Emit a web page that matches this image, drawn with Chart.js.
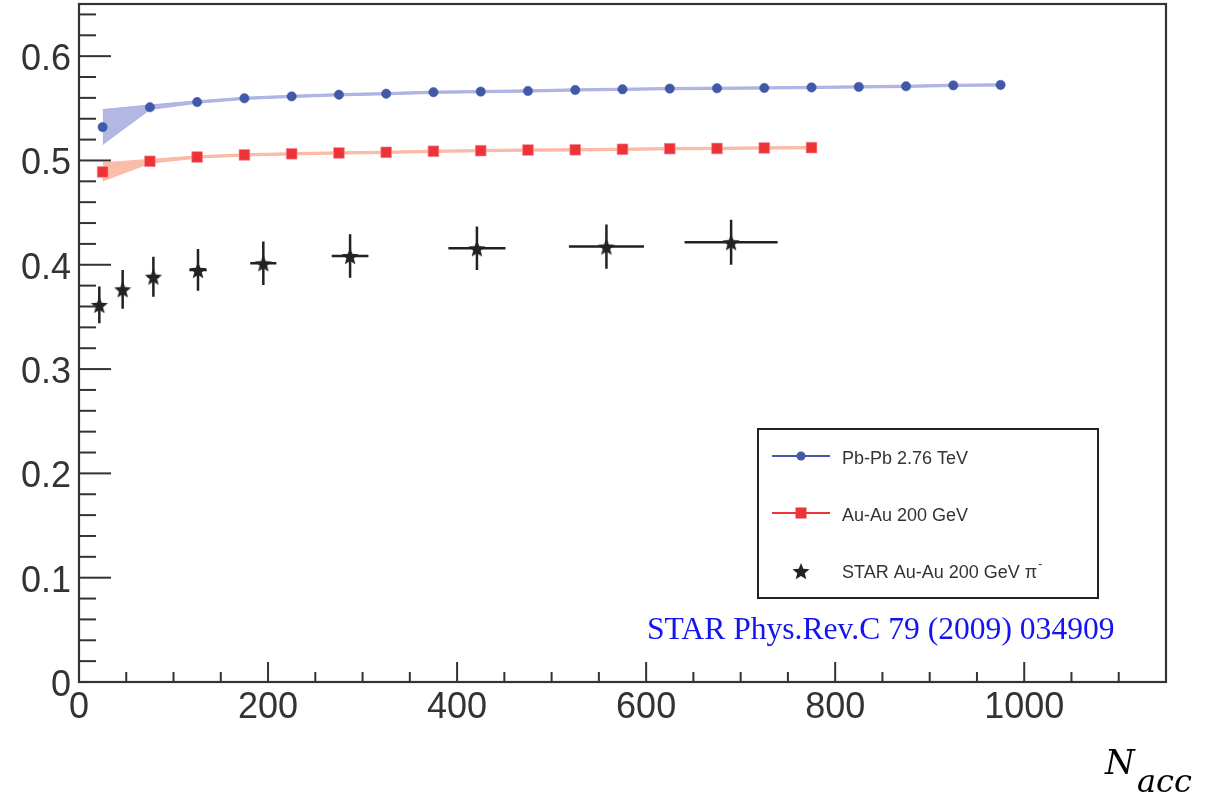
<!DOCTYPE html>
<html><head><meta charset="utf-8">
<script src="https://cdn.jsdelivr.net/npm/chart.js@4/dist/chart.umd.min.js"></script>
<style>html,body{margin:0;padding:0;background:#fff;}#wrap{width:1211px;height:801px;position:relative;}</style>
</head><body><div id="wrap"><canvas id="c" width="1211" height="801"></canvas></div>
<script>
// ---- data ----
const pbpbX = [25,75,125,175,225,275,325,375,425,475,525,575,625,675,725,775,825,875,925,975];
const pbpbY = [0.532,0.551,0.556,0.5596,0.5614,0.563,0.564,0.5654,0.566,0.5666,0.5676,0.5682,0.5689,0.5692,0.5695,0.570,0.5705,0.5711,0.572,0.5724];
const pbpbErr = [0.0168,0.0022,0.0012,0.0011,0.0011,0.0011,0.0011,0.0011,0.0011,0.0011,0.0011,0.0011,0.0011,0.0011,0.0011,0.0011,0.0011,0.0011,0.0011,0.0011];
const auauX = [25,75,125,175,225,275,325,375,425,475,525,575,625,675,725,775];
const auauY = [0.489,0.4992,0.5033,0.5053,0.5064,0.5072,0.5078,0.5088,0.5094,0.510,0.5102,0.5107,0.5113,0.5115,0.512,0.5123];
const auauErr = [0.0088,0.0018,0.0011,0.0011,0.0011,0.0011,0.0011,0.0011,0.0011,0.0011,0.0011,0.0011,0.0011,0.0011,0.0011,0.0011];
const starX = [21.5,46.2,78.7,125.9,195,286.8,421,558,689.9];
const starY = [0.3615,0.3765,0.3886,0.395,0.4014,0.4084,0.4158,0.4174,0.4216];
const starYErr = [0.0176,0.0186,0.0192,0.020,0.0208,0.0209,0.0208,0.0211,0.0216];
const starXErr = [3,4,6,9.2,13.8,19.4,30.2,39.7,49.2];
const xTickValues = [0,200,400,600,800,1000];
const xTickLabels = ['0','200','400','600','800','1000'];
const yTickValues = [0,0.1,0.2,0.3,0.4,0.5,0.6];
const yTickLabels = ['0','0.1','0.2','0.3','0.4','0.5','0.6'];
const legendLabels = ['Pb-Pb 2.76 TeV','Au-Au 200 GeV','STAR Au-Au 200 GeV \u03c0'];
const refText = 'STAR Phys.Rev.C 79 (2009) 034909';

// ---- helpers ----
function pts(xs, ys){ return xs.map((x,i)=>({x:x,y:ys[i]})); }
function shift(xs, ys, es, s){ return xs.map((x,i)=>({x:x,y:ys[i]+s*es[i]})); }
function starPath(ctx, cx, cy, ro, ri){
  ctx.beginPath();
  for(let k=0;k<10;k++){
    const r = k%2===0 ? ro : ri;
    const a = -Math.PI/2 + k*Math.PI/5;
    const px = cx + r*Math.cos(a), py = cy + r*Math.sin(a);
    if(k===0) ctx.moveTo(px,py); else ctx.lineTo(px,py);
  }
  ctx.closePath();
}
const starImg = document.createElement('canvas');
starImg.width = 22; starImg.height = 22;
(function(){ const g = starImg.getContext('2d'); g.fillStyle='#222'; starPath(g,11,12,9,3.9); g.fill(); })();

const BLUE = '#4258a8', RED = '#ee3338', DARK = '#333333';

const overlay = {
  id:'overlay',
  beforeDatasetsDraw(chart){
    const ctx = chart.ctx, xs = chart.scales.x, ys = chart.scales.y;
    ctx.save();
    ctx.strokeStyle = '#222'; ctx.lineWidth = 2.5;
    starX.forEach((x,i)=>{
      const px = xs.getPixelForValue(x), py = ys.getPixelForValue(starY[i]);
      ctx.beginPath();
      ctx.moveTo(px, ys.getPixelForValue(starY[i]-starYErr[i]));
      ctx.lineTo(px, ys.getPixelForValue(starY[i]+starYErr[i]));
      ctx.moveTo(xs.getPixelForValue(x-starXErr[i]), py);
      ctx.lineTo(xs.getPixelForValue(x+starXErr[i]), py);
      ctx.stroke();
    });
    ctx.restore();
  },
  afterDatasetsDraw(chart){
    const ctx = chart.ctx, xs = chart.scales.x, ys = chart.scales.y, a = chart.chartArea;
    ctx.save();
    ctx.strokeStyle = DARK; ctx.lineWidth = 2.2;
    ctx.strokeRect(a.left, a.top, a.right-a.left, a.bottom-a.top);
    ctx.lineWidth = 2;
    for(let i=0;i<=32;i++){
      const v = i*0.02, py = ys.getPixelForValue(v);
      if(py < a.top+1) continue;
      const len = (i%5===0) ? 32 : 17;
      ctx.beginPath(); ctx.moveTo(a.left, py); ctx.lineTo(a.left+len, py); ctx.stroke();
    }
    for(let i=0;i<=23;i++){
      const v = i*50, px = xs.getPixelForValue(v);
      if(px > a.right-1) continue;
      const len = (v%200===0) ? 20 : 10;
      ctx.beginPath(); ctx.moveTo(px, a.bottom); ctx.lineTo(px, a.bottom-len); ctx.stroke();
    }
    ctx.fillStyle = DARK;
    ctx.font = '36px "Liberation Sans", Arial, sans-serif';
    ctx.textAlign = 'right'; ctx.textBaseline = 'alphabetic';
    yTickValues.forEach((v,i)=>{
      ctx.fillText(yTickLabels[i], a.left-8, ys.getPixelForValue(v)+14);
    });
    ctx.textAlign = 'center';
    xTickValues.forEach((v,i)=>{
      ctx.fillText(xTickLabels[i], xs.getPixelForValue(v), a.bottom+36);
    });
    ctx.textAlign = 'left'; ctx.fillStyle = '#000';
    ctx.font = 'italic 34px "DejaVu Serif", serif';
    ctx.fillText('N', 1105, 774);
    ctx.font = 'italic 32px "DejaVu Serif", serif';
    ctx.fillText('acc', 1137, 792);
    ctx.strokeStyle = '#222'; ctx.lineWidth = 2;
    ctx.strokeRect(758, 429, 340, 169);
    ctx.font = '18px "Liberation Sans", Arial, sans-serif';
    ctx.fillStyle = DARK; ctx.textBaseline = 'middle';
    ctx.strokeStyle = BLUE; ctx.lineWidth = 2;
    ctx.beginPath(); ctx.moveTo(772,456); ctx.lineTo(830,456); ctx.stroke();
    ctx.fillStyle = BLUE; ctx.beginPath(); ctx.arc(801,456,4.5,0,Math.PI*2); ctx.fill();
    ctx.fillStyle = DARK; ctx.fillText(legendLabels[0], 842, 459);
    ctx.strokeStyle = RED;
    ctx.beginPath(); ctx.moveTo(772,513); ctx.lineTo(830,513); ctx.stroke();
    ctx.fillStyle = RED; ctx.fillRect(795.5,507.5,11,11);
    ctx.fillStyle = DARK; ctx.fillText(legendLabels[1], 842, 516);
    ctx.drawImage(starImg, 790, 560);
    ctx.fillStyle = DARK; ctx.fillText(legendLabels[2], 842, 573);
    const w = ctx.measureText(legendLabels[2]).width;
    ctx.font = '12px "Liberation Sans", Arial, sans-serif';
    ctx.fillText('-', 842+w+1, 565);
    ctx.font = '31.6px "Liberation Serif", "Times New Roman", serif';
    ctx.fillStyle = '#1414f0'; ctx.textBaseline = 'alphabetic'; ctx.textAlign = 'left';
    ctx.fillText(refText, 647, 639);
    ctx.restore();
  }
};

const bandBlue = 'rgba(165,170,222,0.85)', bandRed = 'rgba(250,178,155,0.85)';
new Chart(document.getElementById('c'), {
  type:'scatter',
  data:{ datasets:[
    { label:'pbpb upper', order:5, data: shift(pbpbX,pbpbY,pbpbErr,1), showLine:true, pointRadius:0, borderWidth:1,
      borderColor:bandBlue, backgroundColor:bandBlue, fill:'+1', tension:0 },
    { label:'pbpb lower', order:5, data: shift(pbpbX,pbpbY,pbpbErr,-1), showLine:true, pointRadius:0, borderWidth:1,
      borderColor:bandBlue, backgroundColor:bandBlue, fill:false, tension:0 },
    { label:'auau upper', order:5, data: shift(auauX,auauY,auauErr,1), showLine:true, pointRadius:0, borderWidth:1,
      borderColor:bandRed, backgroundColor:bandRed, fill:'+1', tension:0 },
    { label:'auau lower', order:5, data: shift(auauX,auauY,auauErr,-1), showLine:true, pointRadius:0, borderWidth:1,
      borderColor:bandRed, backgroundColor:bandRed, fill:false, tension:0 },
    { label:legendLabels[0], order:1, data: pts(pbpbX,pbpbY), showLine:false, pointStyle:'circle', pointRadius:4.7,
      pointBackgroundColor:BLUE, pointBorderColor:BLUE, pointBorderWidth:0.5 },
    { label:legendLabels[1], order:1, data: pts(auauX,auauY), showLine:false, pointStyle:'rect', pointRadius:7.6,
      pointBackgroundColor:RED, pointBorderColor:'rgba(245,140,150,0.8)', pointBorderWidth:0.8 },
    { label:legendLabels[2], order:0, data: pts(starX,starY), showLine:false, pointStyle:starImg, pointRadius:9 }
  ]},
  options:{
    responsive:false, animation:false,
    layout:{ autoPadding:false, padding:{ left:79, top:4, right:45, bottom:119 } },
    scales:{
      x:{ type:'linear', min:0, max:1150, display:false },
      y:{ type:'linear', min:0, max:0.65, display:false }
    },
    plugins:{ legend:{display:false}, tooltip:{enabled:false} },
    events:[]
  },
  plugins:[overlay]
});
</script></body></html>
